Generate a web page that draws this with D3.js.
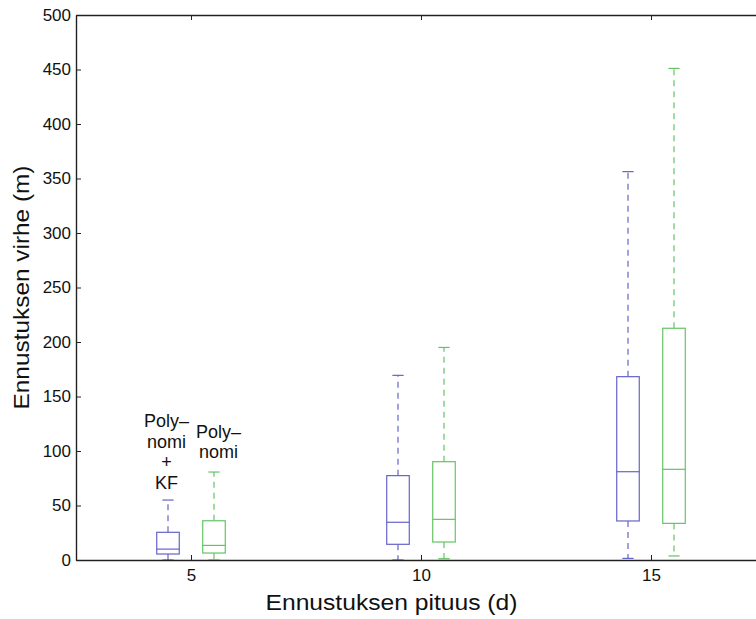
<!DOCTYPE html>
<html lang="fi">
<head>
<meta charset="UTF-8">
<script src="https://cdn.jsdelivr.net/npm/d3@7"></script>
<style>
    body { margin: 0; background: #fff; }
    svg { display: block; font-family: "Liberation Sans", Arial, sans-serif; }
</style>
</head>
<body>
<div id="chart"></div>
<script>
// forecast horizons (d) on the x axis
const horizons = [5, 10, 15];
const seriesNames = ["Polynomi + KF", "Polynomi"];
// box stats per horizon: [lower whisker, q1, median, q3, upper whisker]
const kfStats = [
    [0, 5.5, 10, 25.4, 55],
    [0, 14.4, 34.6, 77.4, 169.4],
    [1.5, 35.8, 81, 168.2, 356.3]
];
const polyStats = [
    [0, 6.4, 13.4, 36, 80.7],
    [1.2, 16.5, 37.3, 90.2, 195],
    [3.7, 33.6, 83.2, 212.6, 451]
];
const yTicks = [0, 50, 100, 150, 200, 250, 300, 350, 400, 450, 500];

const width = 756;
const height = 619;
const margin = { left: 76, top: 15, bottom: 59 };
const colors = ["#6464c8", "#64c464"];
const offsets = [-0.5, 0.5];

const svg = d3.select("#chart").append("svg")
    .attr("width", width)
    .attr("height", height);

// x domain runs past the right edge of the picture, like the original
const x = d3.scaleLinear().domain([2.5, 17.5]).range([margin.left, 766]);
const y = d3.scaleLinear().domain([0, 500]).range([height - margin.bottom, margin.top]);

const axisColor = "#222";

// boxes
[kfStats, polyStats].forEach((stats, si) => {
    const g = svg.append("g").attr("stroke", colors[si]).attr("fill", "none").attr("stroke-width", 1.2);
    stats.forEach((s, i) => {
        const cx = x(horizons[i] + offsets[si]);
        const half = (x(0.245) - x(0));
        const cap = half / 2;
        const [lo, q1, med, q3, hi] = s;

        // whiskers (dashed)
        g.append("line")
            .attr("x1", cx).attr("x2", cx)
            .attr("y1", y(q3)).attr("y2", y(hi))
            .attr("stroke-dasharray", "6,5");
        g.append("line")
            .attr("x1", cx).attr("x2", cx)
            .attr("y1", y(q1)).attr("y2", y(lo))
            .attr("stroke-dasharray", "6,5");
        // caps
        g.append("line")
            .attr("x1", cx - cap).attr("x2", cx + cap)
            .attr("y1", y(hi)).attr("y2", y(hi));
        g.append("line")
            .attr("x1", cx - cap).attr("x2", cx + cap)
            .attr("y1", y(lo)).attr("y2", y(lo));
        // box
        g.append("rect")
            .attr("x", cx - half)
            .attr("y", y(q3))
            .attr("width", half * 2)
            .attr("height", y(q1) - y(q3))
            .attr("fill", "#fff");
        // median
        g.append("line")
            .attr("x1", cx - half).attr("x2", cx + half)
            .attr("y1", y(med)).attr("y2", y(med));
    });
});

// axes
const leftAxis = svg.append("g")
    .attr("transform", `translate(${margin.left},0)`)
    .call(d3.axisLeft(y).tickValues(yTicks).tickSizeInner(-5).tickSizeOuter(0).tickPadding(5));

const bottomAxis = svg.append("g")
    .attr("transform", `translate(0,${y(0)})`)
    .call(d3.axisBottom(x).tickValues(horizons).tickSizeInner(-5).tickSizeOuter(0).tickPadding(9));

const topAxis = svg.append("g")
    .attr("transform", `translate(0,${y(500)})`)
    .call(d3.axisTop(x).tickValues(horizons).tickSizeInner(-5).tickSizeOuter(0).tickFormat(""));

svg.append("line")
    .attr("x1", x(17.5)).attr("x2", x(17.5))
    .attr("y1", y(0)).attr("y2", y(500))
    .attr("stroke", axisColor);

[leftAxis, bottomAxis, topAxis].forEach(a => {
    a.select(".domain").attr("stroke", axisColor).attr("stroke-width", 1.4);
    a.selectAll(".tick line").attr("stroke", axisColor);
    a.selectAll(".tick text").attr("fill", "#111").style("font-size", "17px").style("font-family", "Liberation Sans, Arial, sans-serif");
});

// axis labels
svg.append("text")
    .attr("x", 391.5)
    .attr("y", 610)
    .attr("text-anchor", "middle")
    .attr("textLength", 252)
    .attr("lengthAdjust", "spacingAndGlyphs")
    .style("font-size", "22px")
    .attr("fill", "#111")
    .text("Ennustuksen pituus (d)");

svg.append("text")
    .attr("transform", `translate(29,${(y(0) + y(500)) / 2}) rotate(-90)`)
    .attr("text-anchor", "middle")
    .attr("textLength", 244)
    .attr("lengthAdjust", "spacingAndGlyphs")
    .style("font-size", "22px")
    .attr("fill", "#111")
    .text("Ennustuksen virhe (m)");

// series names above the first pair of boxes
const labelLines = [["Poly–", "nomi", "+", "KF"], ["Poly–", "nomi"]];
const labelX = [166.5, 218.5];
const labelTop = [427, 437.5];
labelLines.forEach((lines, si) => {
    const t = svg.append("text")
        .attr("text-anchor", "middle")
        .style("font-size", "18px")
        .attr("fill", "#111");
    lines.forEach((line, li) => {
        t.append("tspan")
            .attr("x", labelX[si])
            .attr("y", labelTop[si] + li * 20.5)
            .text(line);
    });
});
</script>
</body>
</html>
